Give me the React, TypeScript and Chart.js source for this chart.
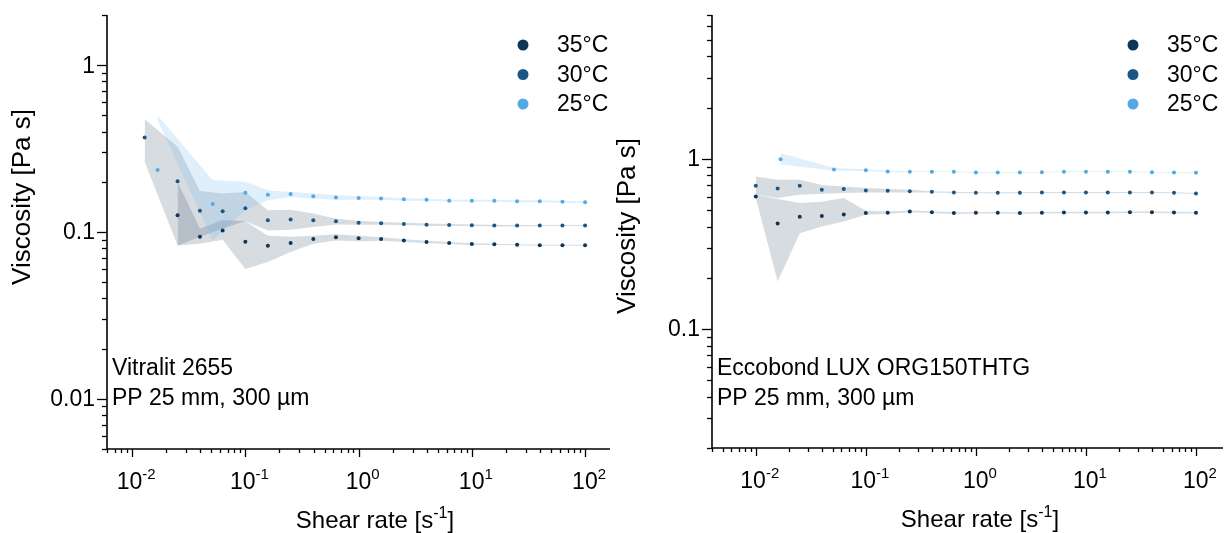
import React, { useEffect, useRef } from "react";
import { Chart, registerables } from "chart.js";

Chart.register(...registerables);

// ---------- Left panel: Vitralit 2655 ----------
const L25_X = [0.0168, 0.0515, 0.1, 0.158, 0.251, 0.398, 0.631, 1, 1.58, 2.51, 3.98, 6.31, 10, 15.8, 25.1, 39.8, 63.1, 100];
const L25_Y = [0.235, 0.147, 0.172, 0.167, 0.169, 0.164, 0.161, 0.16, 0.159, 0.157, 0.156, 0.154, 0.154, 0.154, 0.153, 0.153, 0.152, 0.151];
const L25_HI = [0.5, 0.205, 0.2, 0.178, 0.174, 0.17, 0.166, 0.164, 0.162, 0.16, 0.158, 0.156, 0.156, 0.156, 0.155, 0.155, 0.154, 0.153];
const L25_LO = [0.47, 0.089, 0.135, 0.155, 0.162, 0.158, 0.156, 0.156, 0.156, 0.154, 0.154, 0.152, 0.152, 0.152, 0.151, 0.151, 0.15, 0.149];

const L30_X = [0.0129, 0.0252, 0.0397, 0.063, 0.1, 0.158, 0.251, 0.398, 0.631, 1, 1.58, 2.51, 3.98, 6.31, 10, 15.8, 25.1, 39.8, 63.1, 100];
const L30_Y = [0.369, 0.2017, 0.134, 0.133, 0.139, 0.1175, 0.119, 0.1175, 0.116, 0.1138, 0.1128, 0.1117, 0.1107, 0.11, 0.1097, 0.1093, 0.1093, 0.1093, 0.1093, 0.1093];
const L30_HI = [0.474, 0.324, 0.176, 0.17, 0.174, 0.135, 0.136, 0.129, 0.12, 0.117, 0.115, 0.1135, 0.1125, 0.1115, 0.111, 0.1105, 0.1103, 0.11, 0.11, 0.11];
const L30_LO = [0.264, 0.083, 0.0934, 0.105, 0.116, 0.102, 0.103, 0.107, 0.111, 0.1105, 0.1105, 0.11, 0.109, 0.1085, 0.1085, 0.108, 0.108, 0.1085, 0.1085, 0.1085];

const L35_X = [0.0252, 0.0397, 0.063, 0.1, 0.158, 0.251, 0.398, 0.631, 1, 1.58, 2.51, 3.98, 6.31, 10, 15.8, 25.1, 39.8, 63.1, 100];
const L35_Y = [0.126, 0.0938, 0.102, 0.0875, 0.0828, 0.0859, 0.0908, 0.093, 0.0917, 0.0908, 0.0888, 0.0871, 0.0859, 0.0847, 0.0843, 0.0838, 0.0834, 0.0834, 0.0834];
const L35_HI = [0.2, 0.105, 0.118, 0.116, 0.095, 0.0935, 0.095, 0.097, 0.095, 0.093, 0.0905, 0.0885, 0.087, 0.0857, 0.085, 0.0845, 0.084, 0.084, 0.084];
const L35_LO = [0.083, 0.085, 0.09, 0.06, 0.066, 0.076, 0.085, 0.089, 0.088, 0.0885, 0.087, 0.0858, 0.0848, 0.0837, 0.0836, 0.0832, 0.0828, 0.0828, 0.0828];

// ---------- Right panel: Eccobond LUX ORG150THTG ----------
const R25_X = [0.0168, 0.0513, 0.1, 0.158, 0.251, 0.398, 0.631, 1, 1.58, 2.51, 3.98, 6.31, 10, 15.8, 25.1, 39.8, 63.1, 100];
const R25_Y = [0.996, 0.865, 0.858, 0.842, 0.839, 0.839, 0.839, 0.831, 0.831, 0.831, 0.835, 0.839, 0.839, 0.839, 0.839, 0.835, 0.831, 0.828];
const R25_HI = [1.08, 0.882, 0.868, 0.85, 0.846, 0.845, 0.844, 0.836, 0.836, 0.836, 0.84, 0.844, 0.844, 0.844, 0.844, 0.84, 0.836, 0.833];
const R25_LO = [0.93, 0.85, 0.848, 0.835, 0.833, 0.833, 0.834, 0.826, 0.826, 0.826, 0.83, 0.834, 0.834, 0.834, 0.834, 0.83, 0.826, 0.823];

const R_X = [0.01, 0.0158, 0.0251, 0.0398, 0.063, 0.1, 0.158, 0.251, 0.398, 0.631, 1, 1.58, 2.51, 3.98, 6.31, 10, 15.8, 25.1, 39.8, 63.1, 100];
const R30_Y = [0.694, 0.67, 0.694, 0.658, 0.664, 0.651, 0.649, 0.646, 0.64, 0.634, 0.632, 0.632, 0.632, 0.634, 0.634, 0.634, 0.634, 0.634, 0.634, 0.632, 0.626];
const R30_HI = [0.787, 0.753, 0.753, 0.703, 0.688, 0.673, 0.665, 0.658, 0.646, 0.64, 0.637, 0.636, 0.636, 0.638, 0.638, 0.638, 0.638, 0.638, 0.638, 0.636, 0.63];
const R30_LO = [0.615, 0.588, 0.615, 0.623, 0.629, 0.634, 0.634, 0.634, 0.634, 0.629, 0.627, 0.628, 0.628, 0.63, 0.63, 0.63, 0.63, 0.63, 0.63, 0.628, 0.622];

const R35_Y = [0.601, 0.417, 0.457, 0.461, 0.471, 0.48, 0.482, 0.491, 0.486, 0.48, 0.482, 0.482, 0.48, 0.482, 0.484, 0.484, 0.484, 0.486, 0.486, 0.484, 0.482];
const R35_HI = [0.615, 0.58, 0.55, 0.56, 0.588, 0.495, 0.49, 0.497, 0.492, 0.486, 0.487, 0.487, 0.485, 0.487, 0.489, 0.489, 0.489, 0.491, 0.491, 0.489, 0.487];
const R35_LO = [0.59, 0.19, 0.366, 0.4, 0.428, 0.469, 0.476, 0.485, 0.48, 0.474, 0.477, 0.477, 0.475, 0.477, 0.479, 0.479, 0.479, 0.481, 0.481, 0.479, 0.477];

// ---------- Labels / ticks ----------
const SERIES_LABELS = ["35°C", "30°C", "25°C"];
const X_TICKS = [0.01, 0.1, 1, 10, 100];
const X_TICK_EXP = ["-2", "-1", "0", "1", "2"];
const L_Y_TICKS = [0.01, 0.1, 1];
const L_Y_TICK_LABELS = ["0.01", "0.1", "1"];
const R_Y_TICKS = [0.1, 1];
const R_Y_TICK_LABELS = ["0.1", "1"];
const Y_TITLE = "Viscosity [Pa s]";
const X_TITLE_BASE = "Shear rate [s";
const X_TITLE_SUP = "-1";
const X_TITLE_END = "]";
const L_NOTE = ["Vitralit 2655", "PP 25 mm, 300 µm"];
const R_NOTE = ["Eccobond LUX ORG150THTG", "PP 25 mm, 300 µm"];

const C35 = "#0f3556";
const C30 = "#1a5785";
const C25 = "#55a9e3";
const COLORS = [C35, C30, C25];
const BAND_DARK = "rgba(40,70,95,0.19)";
const BAND_LIGHT = "rgba(110,180,235,0.22)";

const FONT = "'Liberation Sans', Arial, sans-serif";

function pts(xs: number[], ys: number[]) {
  return xs.map((x, i) => ({ x, y: ys[i] }));
}

function bandSets(xs: number[], lo: number[], hi: number[], color: string) {
  return [
    { data: pts(xs, lo), borderWidth: 0, borderColor: "rgba(0,0,0,0)", pointRadius: 0, fill: false, order: 10, tension: 0 },
    { data: pts(xs, hi), borderWidth: 0, borderColor: "rgba(0,0,0,0)", pointRadius: 0, fill: "-1", backgroundColor: color, order: 10, tension: 0 },
  ];
}

function pointSet(xs: number[], ys: number[], color: string) {
  return { data: pts(xs, ys), showLine: false, pointRadius: 2, pointBorderWidth: 0, pointBackgroundColor: color, borderColor: color, order: 0 };
}

type PanelCfg = {
  yTicks: number[];
  yTickLabels: string[];
  yTitleX: number;
  yTitleY: number;
  xTitleX: number;
  note: string[];
  legendX: number;
};

function drawSup(ctx: CanvasRenderingContext2D, base: string, sup: string, end: string, cx: number, cy: number, size: number, supSize: number) {
  ctx.font = `${size}px ${FONT}`;
  const wb = ctx.measureText(base).width;
  const we = end ? ctx.measureText(end).width : 0;
  ctx.font = `${supSize}px ${FONT}`;
  const ws = ctx.measureText(sup).width;
  const total = wb + ws + we;
  let x = cx - total / 2;
  ctx.textAlign = "left";
  ctx.textBaseline = "alphabetic";
  ctx.font = `${size}px ${FONT}`;
  ctx.fillText(base, x, cy);
  x += wb;
  ctx.font = `${supSize}px ${FONT}`;
  ctx.fillText(sup, x, cy - size * 0.42);
  x += ws;
  if (end) {
    ctx.font = `${size}px ${FONT}`;
    ctx.fillText(end, x, cy);
  }
}

function makePlugin(cfg: PanelCfg, offsetX: number) {
  return {
    id: "customAxes",
    afterDraw(chart: any) {
      const ctx: CanvasRenderingContext2D = chart.ctx;
      const { left, right, top, bottom } = chart.chartArea;
      const xs = chart.scales.x;
      const ys = chart.scales.y;
      ctx.save();
      ctx.strokeStyle = "#000";
      ctx.fillStyle = "#000";
      ctx.lineWidth = 1.6;
      ctx.beginPath();
      ctx.moveTo(left, top);
      ctx.lineTo(left, bottom);
      ctx.lineTo(right, bottom);
      ctx.stroke();
      ctx.lineWidth = 1.3;
      // y ticks
      for (let e = -3; e <= 1; e++) {
        for (let m = 1; m <= 9; m++) {
          const v = m * Math.pow(10, e);
          if (v < ys.min * 0.999 || v > ys.max * 1.001) continue;
          const py = Math.round(ys.getPixelForValue(v)) + 0.5;
          const len = m === 1 ? 10 : 5;
          ctx.beginPath();
          ctx.moveTo(left - len, py);
          ctx.lineTo(left, py);
          ctx.stroke();
        }
      }
      // x ticks
      for (let e = -3; e <= 2; e++) {
        for (let m = 1; m <= 9; m++) {
          const v = m * Math.pow(10, e);
          if (v < xs.min * 0.999 || v > xs.max * 1.001) continue;
          const px = Math.round(xs.getPixelForValue(v)) + 0.5;
          const len = m === 1 ? 8 : 4;
          ctx.beginPath();
          ctx.moveTo(px, bottom);
          ctx.lineTo(px, bottom + len);
          ctx.stroke();
        }
      }
      // y tick labels
      ctx.font = `23px ${FONT}`;
      ctx.textAlign = "right";
      ctx.textBaseline = "middle";
      cfg.yTicks.forEach((v, i) => {
        ctx.fillText(cfg.yTickLabels[i], left - 12, ys.getPixelForValue(v) + 1);
      });
      // x tick labels
      X_TICKS.forEach((v, i) => {
        drawSup(ctx, "10", X_TICK_EXP[i], "", xs.getPixelForValue(v) + 4, bottom + 40, 23, 15);
      });
      // x title
      drawSup(ctx, X_TITLE_BASE, X_TITLE_SUP, X_TITLE_END, cfg.xTitleX - offsetX, bottom + 79, 24, 16);
      // y title
      ctx.save();
      ctx.translate(cfg.yTitleX - offsetX, cfg.yTitleY);
      ctx.rotate(-Math.PI / 2);
      ctx.font = `26px ${FONT}`;
      ctx.textAlign = "center";
      ctx.textBaseline = "middle";
      ctx.fillText(Y_TITLE, 0, 0);
      ctx.restore();
      // annotation
      ctx.font = `23px ${FONT}`;
      ctx.textAlign = "left";
      ctx.textBaseline = "alphabetic";
      ctx.fillText(cfg.note[0], left + 5, 375);
      ctx.fillText(cfg.note[1], left + 5, 405);
      // legend
      const lx = cfg.legendX - offsetX;
      SERIES_LABELS.forEach((lab, i) => {
        const cy = 45 + i * 29.5;
        ctx.fillStyle = COLORS[i];
        ctx.beginPath();
        ctx.arc(lx, cy, 5.5, 0, Math.PI * 2);
        ctx.fill();
        ctx.fillStyle = "#000";
        ctx.font = `23px ${FONT}`;
        ctx.textAlign = "left";
        ctx.textBaseline = "middle";
        ctx.fillText(lab, lx + 34, cy + 1);
      });
      ctx.restore();
    },
  };
}

function Panel(props: {
  left: number;
  width: number;
  padding: { left: number; right: number; top: number; bottom: number };
  xMin: number;
  xMax: number;
  yMin: number;
  yMax: number;
  datasets: any[];
  cfg: PanelCfg;
}) {
  const ref = useRef<HTMLCanvasElement | null>(null);
  useEffect(() => {
    if (!ref.current) return;
    const chart = new Chart(ref.current, {
      type: "line",
      data: { datasets: props.datasets },
      options: {
        animation: false,
        responsive: false,
        maintainAspectRatio: false,
        devicePixelRatio: 1,
        events: [],
        layout: { padding: props.padding },
        plugins: { legend: { display: false }, tooltip: { enabled: false } },
        scales: {
          x: { type: "logarithmic", min: props.xMin, max: props.xMax, display: false },
          y: { type: "logarithmic", min: props.yMin, max: props.yMax, display: false },
        },
      },
      plugins: [makePlugin(props.cfg, props.left)],
    } as any);
    return () => chart.destroy();
  }, []);
  return (
    <div style={{ position: "absolute", left: props.left, top: 0, width: props.width, height: 533 }}>
      <canvas ref={ref} width={props.width} height={533} />
    </div>
  );
}

export default function App() {
  const leftSets = [
    ...bandSets(L25_X, L25_LO, L25_HI, BAND_LIGHT),
    ...bandSets(L30_X, L30_LO, L30_HI, BAND_DARK),
    ...bandSets(L35_X, L35_LO, L35_HI, BAND_DARK),
    pointSet(L25_X, L25_Y, C25),
    pointSet(L30_X, L30_Y, C30),
    pointSet(L35_X, L35_Y, C35),
  ];
  const rightSets = [
    ...bandSets(R25_X, R25_LO, R25_HI, BAND_LIGHT),
    ...bandSets(R_X, R30_LO, R30_HI, BAND_DARK),
    ...bandSets(R_X, R35_LO, R35_HI, BAND_DARK),
    pointSet(R25_X, R25_Y, C25),
    pointSet(R_X, R30_Y, C30),
    pointSet(R_X, R35_Y, C35),
  ];
  return (
    <div style={{ position: "absolute", left: 0, top: 0, width: 1228, height: 533, background: "#fff" }}>
      <Panel
        left={0}
        width={614}
        padding={{ left: 107, right: 1, top: 15, bottom: 84 }}
        xMin={0.006}
        xMax={166}
        yMin={0.005}
        yMax={2}
        datasets={leftSets}
        cfg={{ yTicks: L_Y_TICKS, yTickLabels: L_Y_TICK_LABELS, yTitleX: 23, yTitleY: 197, xTitleX: 375, note: L_NOTE, legendX: 523 }}
      />
      <Panel
        left={614}
        width={614}
        padding={{ left: 98, right: 5, top: 15, bottom: 85 }}
        xMin={0.004}
        xMax={176}
        yMin={0.02}
        yMax={7}
        datasets={rightSets}
        cfg={{ yTicks: R_Y_TICKS, yTickLabels: R_Y_TICK_LABELS, yTitleX: 628, yTitleY: 226, xTitleX: 980, note: R_NOTE, legendX: 1133 }}
      />
    </div>
  );
}
